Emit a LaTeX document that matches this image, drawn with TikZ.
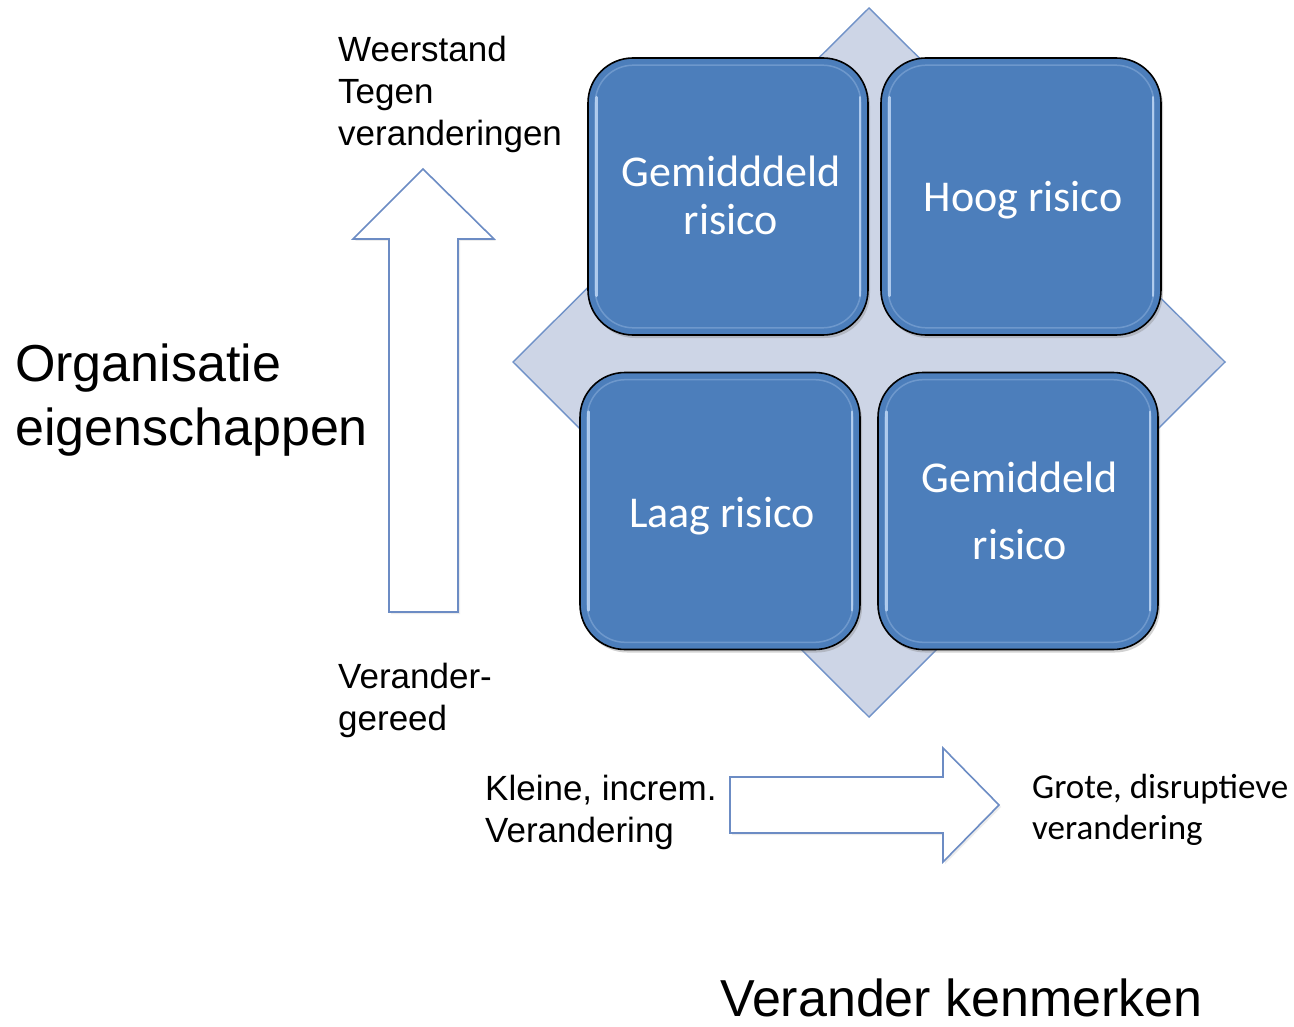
\documentclass[tikz,border=0pt]{standalone}
\usepackage{fontspec}
\setmainfont{Liberation Sans}
\newfontfamily\calib{Carlito}
\usetikzlibrary{calc,shadows}
\definecolor{boxblue}{RGB}{76,126,187}
\definecolor{diafill}{RGB}{205,213,230}
\definecolor{diaedge}{RGB}{112,146,200}
\definecolor{arrowedge}{RGB}{108,140,196}
\definecolor{hlblue}{RGB}{190,215,245}
\tikzset{
  riskbox/.style={draw=black, line width=1.6pt, fill=boxblue, rounded corners=45pt,
    minimum width=280pt, minimum height=277pt, inner sep=0pt,
    drop shadow={opacity=0.35, shadow xshift=2pt, shadow yshift=-3pt}},
  hl/.style={draw=hlblue, line width=2.6pt, opacity=0.85, line cap=round},
  hlsoft/.style={draw=hlblue, line width=1.5pt, opacity=0.3, rounded corners=38pt},
  boxtext/.style={font=\calib\fontsize{44}{50}\selectfont, text=white, anchor=base, inner sep=0pt},
  smalltext/.style={font=\fontsize{35}{42}\selectfont, anchor=base west, inner sep=0pt},
  calibsmall/.style={font=\calib\fontsize{35}{42}\selectfont, anchor=base west, inner sep=0pt},
  bigtext/.style={font=\fontsize{52}{64}\selectfont, anchor=base west, inner sep=0pt},
  blockarrow/.style={draw=arrowedge, line width=1.6pt, fill=white, line join=miter,
    drop shadow={opacity=0.15, shadow xshift=2pt, shadow yshift=-2pt}},
}
\begin{document}
\begin{tikzpicture}[x=1pt,y=-1pt]
\useasboundingbox[fill=white] (0,0) rectangle (1294,1027);

% diamond background
\draw[fill=diafill, draw=diaedge, line width=1.4pt] (869,8) -- (1225,362) -- (869,717) -- (513,362) -- cycle;

% risk boxes
\node[riskbox] (tl) at (728,196.5) {};
\node[riskbox] (tr) at (1021,196.5) {};
\node[riskbox] (bl) at (720,511) {};
\node[riskbox] (br) at (1018,511) {};

\foreach \b in {tl,tr,bl,br}{
  \draw[hlsoft] ($(\b.north west)+(8,8)$) rectangle ($(\b.south east)+(-8,-8)$);
  \draw[hl] ($(\b.north west)+(9,40)$) -- ($(\b.south west)+(9,-40)$);
  \draw[hl] ($(\b.north east)+(-9,40)$) -- ($(\b.south east)+(-9,-40)$);
}

% box texts
\node[boxtext] (tl1) at (731,187) {Gemidddeld};
\node[boxtext] (tl2) at (731,235) {risico};
\node[boxtext] (tr1) at (1023,212) {Hoog risico};
\node[boxtext] (bl1) at (722,527) {Laag risico};
\node[boxtext] (br1) at (1020,492) {Gemiddeld};
\node[boxtext] (br2) at (1020,559) {risico};

% up arrow
\draw[blockarrow] (389,612) -- (389,239) -- (353,239) -- (423,169) -- (494,239) -- (458,239) -- (458,612) -- cycle;

% right arrow
\draw[blockarrow] (730,777) -- (943,777) -- (943,748) -- (999,805) -- (943,862) -- (943,833) -- (730,833) -- cycle;

% labels
\node[smalltext] (w1) at (338,62) {Weerstand};
\node[smalltext] (w2) at (338,104) {Tegen};
\node[smalltext] (w3) at (338,146) {veranderingen};

\node[bigtext] (o1) at (15,381) {Organisatie};
\node[bigtext] (o2) at (15,445) {eigenschappen};

\node[smalltext] (v1) at (338,688) {Verander-};
\node[smalltext] (v2) at (338,730) {gereed};

\node[smalltext] (k1) at (485,800) {Kleine, increm.};
\node[smalltext] (k2) at (485,842) {Verandering};

\node[calibsmall] (g1) at (1032,798) {Grote, disruptieve};
\node[calibsmall] (g2) at (1032,839) {verandering};

\node[bigtext] (vk) at (720,1016) {Verander kenmerken};
\end{tikzpicture}
\end{document}
